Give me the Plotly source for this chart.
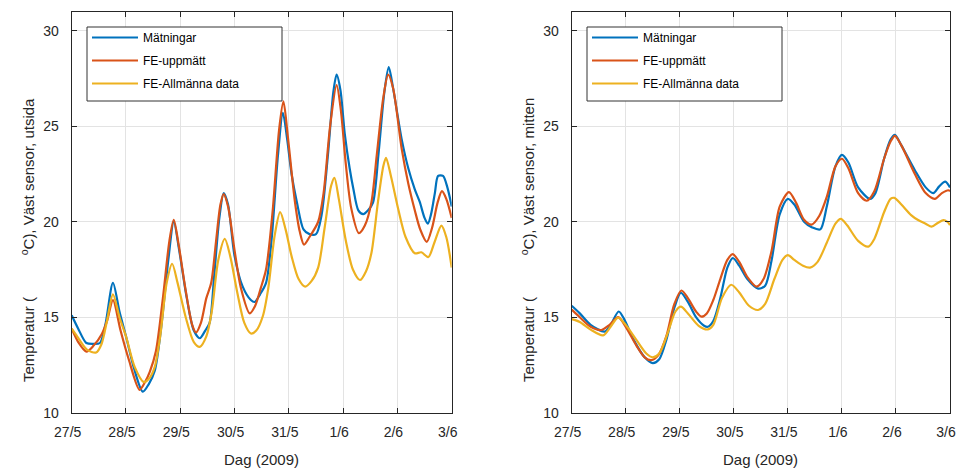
import plotly.graph_objects as go

# ---------------- data (day offset from 27/5, temperature °C) ----------------
tick_vals = [0, 1, 2, 3, 4, 5, 6, 7]
tick_text = ["27/5", "28/5", "29/5", "30/5", "31/5", "1/6", "2/6", "3/6"]
series_names = ["Mätningar", "FE-uppmätt", "FE-Allmänna data"]

# Left panel: Väst sensor, utsida
L_meas_t = [0, 0.12, 0.27, 0.4, 0.52, 0.62, 0.76, 0.88, 1.0, 1.15, 1.31, 1.42, 1.53, 1.65, 1.78, 1.88,
            1.98, 2.12, 2.25, 2.36, 2.46, 2.54, 2.62, 2.72, 2.80, 2.88, 3.0, 3.15, 3.3, 3.37, 3.47, 3.58,
            3.68, 3.80, 3.89, 3.97, 4.05, 4.15, 4.27, 4.38, 4.5, 4.6, 4.72, 4.82, 4.88, 4.95, 5.03, 5.12,
            5.19, 5.28, 5.37, 5.46, 5.55, 5.65, 5.76, 5.84, 5.92, 6.08, 6.2, 6.32, 6.41, 6.5, 6.56, 6.62,
            6.69, 6.75, 6.84, 6.92, 7.0]
L_meas_v = [15.1, 14.4, 13.65, 13.6, 13.65, 14.6, 16.8, 15.3, 14.0, 12.3, 11.1, 11.5, 12.2, 14.5, 18.0, 20.0,
            18.5, 16.0, 14.3, 13.9, 14.3, 14.7, 17.0, 20.2, 21.5, 20.9, 18.2, 16.6, 15.9, 15.8, 16.2, 16.8,
            19.0, 23.5, 25.7, 24.3, 22.5, 21.0, 19.6, 19.35, 19.35, 20.3, 23.5, 26.8, 27.7, 26.9, 24.6, 22.8,
            21.7, 20.6, 20.4, 20.6, 21.0, 23.5, 26.8, 28.1, 27.0, 24.3, 22.8, 21.7, 21.05, 20.2, 19.9, 20.4,
            21.5, 22.4, 22.4, 21.8, 20.8]

L_fem_t = [0, 0.12, 0.27, 0.4, 0.55, 0.65, 0.76, 0.9, 1.05, 1.25, 1.35, 1.44, 1.55, 1.68, 1.80, 1.88,
           1.97, 2.1, 2.22, 2.29, 2.38, 2.48, 2.57, 2.66, 2.74, 2.80, 2.88, 3.0, 3.12, 3.28, 3.38, 3.48,
           3.58, 3.70, 3.82, 3.90, 3.98, 4.11, 4.2, 4.28, 4.38, 4.54, 4.64, 4.76, 4.88, 4.96, 5.05, 5.15,
           5.29, 5.40, 5.52, 5.62, 5.74, 5.83, 5.92, 6.08, 6.2, 6.32, 6.42, 6.54, 6.64, 6.74, 6.82, 6.9, 7.0]
L_fem_v = [14.4, 13.7, 13.2, 13.5, 14.1, 14.8, 15.9, 14.3, 12.8, 11.2, 11.6, 12.15, 13.2, 16.0, 19.0, 20.1,
           18.8, 16.4, 14.6, 14.2, 14.7, 16.0, 16.8, 19.0, 20.9, 21.45, 20.8, 18.5, 16.5, 15.2, 15.6, 16.5,
           17.5, 20.5, 24.8, 26.3, 24.5, 21.1, 19.5, 18.8, 19.2, 20.0, 21.5, 25.0, 27.15, 25.8, 23.0, 20.7,
           19.4, 19.8, 21.0, 23.5, 26.5, 27.7, 27.0, 23.8, 22.0, 20.6, 19.6, 18.95, 19.7, 21.0, 21.6, 21.2, 20.2]

L_fea_t = [0, 0.1, 0.28, 0.45, 0.55, 0.65, 0.76, 0.88, 1.0, 1.16, 1.33, 1.43, 1.53, 1.63, 1.75, 1.85,
           1.95, 2.1, 2.25, 2.36, 2.48, 2.58, 2.70, 2.82, 2.92, 3.05, 3.18, 3.30, 3.40, 3.52, 3.62, 3.74,
           3.84, 3.94, 4.05, 4.18, 4.30, 4.42, 4.54, 4.66, 4.78, 4.84, 4.92, 5.05, 5.18, 5.31, 5.42, 5.52,
           5.64, 5.74, 5.79, 5.88, 6.02, 6.15, 6.32, 6.44, 6.57, 6.68, 6.81, 6.9, 7.0]
L_fea_v = [14.4, 14.0, 13.3, 13.15, 13.6, 14.8, 16.2, 15.0, 14.0, 12.4, 11.6, 11.8, 12.4, 14.0, 16.8, 17.8,
           16.8, 15.0, 13.7, 13.45, 14.0, 15.3, 18.0, 19.1, 18.2, 16.3, 14.7, 14.15, 14.3, 15.05, 16.5, 19.3,
           20.5, 19.6, 18.2, 17.0, 16.6, 16.9, 17.6, 19.7, 21.9, 22.3, 21.2, 19.0, 17.5, 16.95, 17.4, 18.35,
           21.0, 22.9, 23.35, 22.4, 20.6, 19.2, 18.35, 18.4, 18.15, 18.9, 19.8, 19.2, 17.6]

# Right panel: Väst sensor, mitten
R_meas_t = [0, 0.15, 0.35, 0.61, 0.72, 0.87, 0.97, 1.15, 1.35, 1.50, 1.62, 1.75, 1.9, 2.02, 2.15, 2.3,
            2.45, 2.52, 2.62, 2.75, 2.88, 2.98, 3.1, 3.25, 3.45, 3.58, 3.70, 3.85, 4.0, 4.12, 4.3, 4.45,
            4.6, 4.72, 4.88, 5.0, 5.12, 5.3, 5.52, 5.62, 5.78, 5.9, 5.98, 6.1, 6.35, 6.55, 6.69, 6.8, 6.91, 7.0]
R_meas_v = [15.6, 15.2, 14.6, 14.25, 14.6, 15.3, 14.9, 13.8, 12.9, 12.6, 12.8, 13.8, 15.5, 16.28, 15.8, 15.0,
            14.55, 14.5, 14.8, 16.0, 17.6, 18.1, 17.7, 17.0, 16.5, 16.65, 18.0, 20.4, 21.2, 20.9, 20.0, 19.7,
            19.6, 20.8, 22.9, 23.5, 23.1, 21.8, 21.2, 21.5, 23.3, 24.3, 24.55, 24.0, 22.7, 21.8, 21.5, 21.85, 22.1, 21.8]

R_fem_t = [0, 0.15, 0.35, 0.55, 0.7, 0.86, 1.0, 1.2, 1.35, 1.47, 1.6, 1.75, 1.9, 2.03, 2.15, 2.3,
           2.40, 2.5, 2.62, 2.75, 2.88, 2.98, 3.1, 3.25, 3.42, 3.55, 3.70, 3.85, 4.02, 4.15, 4.3, 4.44,
           4.58, 4.72, 4.88, 5.0, 5.12, 5.3, 5.46, 5.6, 5.78, 5.9, 5.98, 6.1, 6.35, 6.55, 6.72, 6.85, 6.97, 7.0]
R_fem_v = [15.4, 15.0, 14.5, 14.33, 14.6, 15.0, 14.5, 13.5, 12.9, 12.75, 13.0, 14.0, 15.7, 16.4, 16.0, 15.3,
           15.03, 15.2, 15.9, 17.0, 18.0, 18.3, 17.9, 17.1, 16.6, 17.0, 18.5, 20.8, 21.55, 21.0, 20.1, 19.85,
           20.3, 21.3, 22.9, 23.3, 22.8, 21.5, 21.1, 21.6, 23.3, 24.2, 24.5, 24.0, 22.5, 21.5, 21.2, 21.5, 21.65, 21.6]

R_fea_t = [0, 0.15, 0.35, 0.58, 0.72, 0.86, 1.0, 1.2, 1.38, 1.50, 1.62, 1.78, 1.92, 2.02, 2.15, 2.35,
           2.52, 2.62, 2.78, 2.95, 3.1, 3.28, 3.45, 3.58, 3.75, 3.9, 4.0, 4.12, 4.28, 4.41, 4.55, 4.72,
           4.88, 4.98, 5.1, 5.3, 5.49, 5.6, 5.78, 5.9, 5.97, 6.1, 6.28, 6.41, 6.55, 6.66, 6.78, 6.88, 6.95, 7.0]
R_fea_v = [14.9, 14.75, 14.35, 14.05, 14.5, 14.98, 14.6, 13.8, 13.1, 12.9, 13.1, 14.2, 15.3, 15.55, 15.2, 14.55,
           14.36, 14.6, 16.0, 16.7, 16.3, 15.6, 15.38, 15.7, 17.0, 18.0, 18.25, 18.0, 17.7, 17.6, 17.9, 18.9,
           19.9, 20.15, 19.8, 19.0, 18.7, 19.1, 20.5, 21.2, 21.25, 20.9, 20.35, 20.09, 19.9, 19.74, 19.95, 20.09, 20.0, 19.83]

colors = ["#0072BD", "#D95319", "#EDB120"]
FONT = "Liberation Sans, Arial, sans-serif"
AX = "#262626"

fig = go.Figure()

left = [(L_meas_t, L_meas_v), (L_fem_t, L_fem_v), (L_fea_t, L_fea_v)]
right = [(R_meas_t, R_meas_v), (R_fem_t, R_fem_v), (R_fea_t, R_fea_v)]

for i, (t, v) in enumerate(left):
    fig.add_trace(go.Scatter(x=t, y=v, mode="lines", name=series_names[i], legendgroup="L%d" % i,
                             line=dict(color=colors[i], width=2.2, shape="spline", smoothing=0.8),
                             xaxis="x", yaxis="y", legend="legend"))
for i, (t, v) in enumerate(right):
    fig.add_trace(go.Scatter(x=t, y=v, mode="lines", name=series_names[i], legendgroup="R%d" % i,
                             line=dict(color=colors[i], width=2.2, shape="spline", smoothing=0.8),
                             xaxis="x2", yaxis="y2", legend="legend2"))

W, H = 958, 471
xl = (71.7 / W, 451.7 / W)
xr = (571.7 / W, 950.0 / W)
yd = (1 - 412.7 / H, 1 - 11.7 / H)

def xaxis(dom, anchor):
    return dict(domain=dom, anchor=anchor, range=[0, 7], tickmode="array", tickvals=tick_vals,
                ticktext=tick_text, ticks="inside", ticklen=5, tickcolor=AX, showline=True,
                linecolor=AX, linewidth=1, mirror="ticks", showgrid=True, gridcolor="#e3e3e3",
                gridwidth=1, zeroline=False, automargin=False, ticklabelstandoff=6,
                ticklabelshift=-4, ticklabeloverflow="allow",
                tickfont=dict(family=FONT, size=14, color=AX))

def yaxis(anchor):
    return dict(domain=yd, anchor=anchor, range=[10, 31], tickmode="array", tickvals=[10, 15, 20, 25, 30],
                ticks="inside", ticklen=5, tickcolor=AX, showline=True, linecolor=AX, linewidth=1,
                mirror="ticks", showgrid=True, gridcolor="#e3e3e3", gridwidth=1, zeroline=False,
                automargin=False, ticklabelstandoff=9, ticklabeloverflow="allow",
                tickfont=dict(family=FONT, size=14, color=AX))

legend_common = dict(bgcolor="rgba(0,0,0,0)", borderwidth=0, itemwidth=46,
                     font=dict(family=FONT, size=12, color="#000000"),
                     xanchor="left", yanchor="top", tracegroupgap=4)

def px_rect(x0, y0, x1, y1):
    return dict(type="rect", xref="paper", yref="paper", x0=x0 / W, x1=x1 / W,
                y0=1 - y1 / H, y1=1 - y0 / H, fillcolor="white",
                line=dict(color="#333333", width=1), layer="above")

sp = "\u00a0" * 10
fig.update_layout(
    template="none",
    width=W, height=H, margin=dict(l=0, r=0, t=0, b=0, autoexpand=False),
    paper_bgcolor="white", plot_bgcolor="white",
    xaxis=xaxis(xl, "y"), yaxis=yaxis("x"),
    xaxis2=xaxis(xr, "y2"), yaxis2=yaxis("x2"),
    legend=dict(x=87 / W, y=1 - 23 / H, **legend_common),
    legend2=dict(x=587 / W, y=1 - 23 / H, **legend_common),
    shapes=[px_rect(87, 27, 282, 101), px_rect(587, 27, 782, 101)],
    annotations=[
        dict(text="Dag (2009)", x=(xl[0] + xl[1]) / 2, y=1 - 459 / H, xref="paper", yref="paper",
             xanchor="center", yanchor="middle", showarrow=False, font=dict(family=FONT, size=15, color=AX)),
        dict(text="Dag (2009)", x=(xr[0] + xr[1]) / 2, y=1 - 459 / H, xref="paper", yref="paper",
             xanchor="center", yanchor="middle", showarrow=False, font=dict(family=FONT, size=15, color=AX)),
        dict(text="Temperatur (" + sp + "<sup>o</sup>C), Väst sensor, utsida", x=27 / W, y=1 - 240 / H,
             xref="paper", yref="paper", xanchor="center", yanchor="middle", showarrow=False, textangle=-90,
             font=dict(family=FONT, size=15, color=AX)),
        dict(text="Temperatur (" + sp + "<sup>o</sup>C), Väst sensor, mitten", x=527 / W, y=1 - 240 / H,
             xref="paper", yref="paper", xanchor="center", yanchor="middle", showarrow=False, textangle=-90,
             font=dict(family=FONT, size=15, color=AX)),
    ],
)

fig.write_html("out.html")
